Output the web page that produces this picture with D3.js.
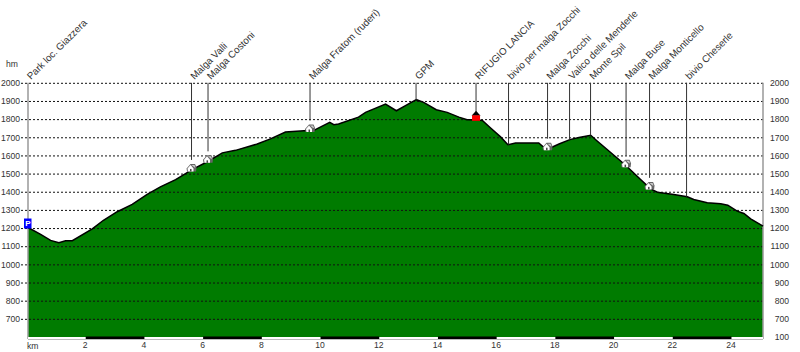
<!DOCTYPE html>
<html>
<head>
<meta charset="utf-8">
<style>
  body { margin: 0; background: #fff; }
  text { font-family: "Liberation Sans", Arial, sans-serif; fill: #333; }
</style>
<script src="https://cdnjs.cloudflare.com/ajax/libs/d3/7.8.5/d3.min.js"></script>
</head>
<body>
<div class="canvas"></div>
<script>
// profile: km, metres
const profileKm = [0, 0.43, 0.77, 1.05, 1.28, 1.51, 2.19, 2.57, 3.04, 3.55, 4.06, 4.51, 5.03, 5.59, 6.14, 6.62, 7.07, 7.81, 8.26, 8.77, 9.40, 9.74, 10.28, 10.42, 10.58, 11.26, 11.50, 12.18, 12.55, 12.86, 13.23, 13.48, 13.91, 14.28, 14.68, 14.96, 15.19, 15.48, 15.76, 16.10, 16.35, 16.61, 17.40, 17.63, 17.74, 18.09, 18.46, 18.77, 19.17, 19.40, 20.36, 20.87, 21.21, 21.44, 22.0, 22.46, 22.68, 23.14, 23.60, 23.84, 24.16, 24.39, 24.62, 25.04];
const profileElev = [1203, 1165, 1132, 1119, 1130, 1130, 1196, 1243, 1290, 1330, 1385, 1427, 1467, 1522, 1568, 1614, 1628, 1663, 1691, 1729, 1736, 1738, 1782, 1769, 1773, 1811, 1837, 1883, 1846, 1874, 1907, 1892, 1852, 1837, 1811, 1797, 1797, 1793, 1751, 1702, 1659, 1669, 1669, 1637, 1637, 1663, 1687, 1699, 1711, 1678, 1546, 1467, 1416, 1397, 1385, 1372, 1357, 1339, 1334, 1326, 1293, 1280, 1251, 1211];

// points along the route
const poiNames = ['Park loc. Giazzera', 'Malga Valli', 'Malga Costoni', 'Malga Fratom (ruderi)', 'GPM', 'RIFUGIO LANCIA', 'bivio per malga Zocchi', 'Malga Zocchi', 'Valico delle Menderle', 'Monte Spil', 'Malga Buse', 'Malga Monticello', 'bivio Cheserle'];
const poiKm = [0, 5.571, 6.133, 9.608, 13.22, 15.264, 16.371, 17.70, 18.45, 19.165, 20.375, 21.175, 22.436];
const poiType = ['park', 'hut', 'hut', 'hut', 'pass', 'refuge', 'pass', 'hut', 'pass', 'pass', 'hut', 'hut', 'pass'];

const elevTicks = [2000, 1900, 1800, 1700, 1600, 1500, 1400, 1300, 1200, 1100, 1000, 900, 800, 700];
const kmTicks = [2, 4, 6, 8, 10, 12, 14, 16, 18, 20, 22, 24];
const scaleBars = [2, 6, 10, 14, 18, 22];   // each one is 2 km long

const labelSize = 8.6;

const svg = d3.select('.canvas')
    .append('svg')
    .attr('width', 800)
    .attr('height', 352)
    .style('display', 'block');

const x = d3.scaleLinear().domain([0, 25.04]).range([28, 763]);
const y = d3.scaleLinear().domain([600, 2000]).range([337, 82.8]);

const profile = profileKm.map((km, i) => ({km, elev: profileElev[i]}));

// elevation of the route at some km, needed to hang the markers on it
const bisect = d3.bisector(d => d.km).left;
const elevAt = km => {
    const i = Math.max(1, bisect(profile, km));
    const a = profile[i - 1], b = profile[i];
    return a.elev + (b.elev - a.elev) * (km - a.km) / (b.km - a.km);
};

// green area
svg.append('path')
    .datum(profile)
    .attr('fill', '#007b00')
    .attr('d', d3.area().x(d => x(d.km)).y0(y(600)).y1(d => y(d.elev)));

// grid and labels, left and right
const leftAxis = svg.append('g')
    .attr('transform', 'translate(28,0)')
    .call(d3.axisLeft(y).tickValues(elevTicks).tickSize(7).tickPadding(1).tickFormat(d => d));
leftAxis.select('.domain').remove();
leftAxis.selectAll('line')
    .attr('x2', 735)
    .attr('x1', -7)
    .attr('stroke', '#111')
    .attr('stroke-dasharray', '2,2');
leftAxis.selectAll('text')
    .attr('font-size', labelSize)
    .attr('x', -8)
    .style('font-family', '"Liberation Sans", Arial, sans-serif');

const rightAxis = svg.append('g')
    .attr('transform', 'translate(789,0)')
    .call(d3.axisLeft(y).tickValues(elevTicks.concat([600])).tickSize(0).tickPadding(0)
        .tickFormat(d => d === 600 ? '100' : d));
rightAxis.select('.domain').remove();
rightAxis.selectAll('text')
    .attr('font-size', labelSize)
    .style('font-family', '"Liberation Sans", Arial, sans-serif');

// frame
svg.append('line').attr('x1', 28).attr('x2', 28).attr('y1', y(2000)).attr('y2', 339)
    .attr('stroke', '#999').attr('stroke-width', 1.5);
svg.append('line').attr('x1', 763).attr('x2', 763).attr('y1', y(2000)).attr('y2', 339)
    .attr('stroke', '#999').attr('stroke-width', 1.5);

// km bar under the profile
svg.append('rect').attr('x', 28).attr('y', 337).attr('width', 735).attr('height', 2)
    .attr('fill', '#fff');
svg.append('line').attr('x1', 28).attr('x2', 763).attr('y1', 339.5).attr('y2', 339.5)
    .attr('stroke', '#bbb');
svg.selectAll('.bar')
    .data(scaleBars)
    .enter()
    .append('rect')
    .attr('class', 'bar')
    .attr('x', d => x(d) - 1)
    .attr('y', 336.5)
    .attr('width', x(2) - x(0))
    .attr('height', 2.5)
    .attr('fill', '#000');

const bottomAxis = svg.append('g')
    .attr('transform', 'translate(-2,339)')
    .call(d3.axisBottom(x).tickValues(kmTicks).tickSize(0).tickPadding(3));
bottomAxis.select('.domain').remove();
bottomAxis.selectAll('text')
    .attr('font-size', labelSize)
    .style('font-family', '"Liberation Sans", Arial, sans-serif');

svg.append('text').text('km').attr('x', 27).attr('y', 349).attr('font-size', labelSize);
svg.append('text').text('hm').attr('x', 6).attr('y', 67).attr('font-size', labelSize);

// profile outline
svg.append('path')
    .datum(profile)
    .attr('fill', 'none')
    .attr('stroke', '#000')
    .attr('stroke-width', 1.5)
    .attr('d', d3.line().x(d => x(d.km)).y(d => y(d.elev)));

const pois = poiNames.map((name, i) => ({name, km: poiKm[i], type: poiType[i]}));

// leader lines stop above the icon
const iconGap = {park: 0, hut: 10, refuge: 8, pass: 0};
svg.selectAll('.leader')
    .data(pois.filter(d => d.type !== 'park'))
    .enter()
    .append('line')
    .attr('class', 'leader')
    .attr('x1', d => x(d.km))
    .attr('x2', d => x(d.km))
    .attr('y1', y(2000))
    .attr('y2', d => y(elevAt(d.km)) - iconGap[d.type])
    .attr('stroke', '#333');

svg.selectAll('.poi-label')
    .data(pois)
    .enter()
    .append('text')
    .attr('class', 'poi-label')
    .attr('font-size', 9.8)
    .attr('transform', d => `translate(${x(d.km) + 3},80) rotate(-45)`)
    .text(d => d.name);

// hut icons
const huts = svg.selectAll('.hut')
    .data(pois.filter(d => d.type === 'hut'))
    .enter()
    .append('g')
    .attr('class', 'hut')
    .attr('transform', d => `translate(${x(d.km)},${y(elevAt(d.km)) - 2})`);
huts.append('path')
    .attr('d', 'M-5,0.5 L-1,-4 L3.5,-4 L5,-0.5 L4.5,3.5 L-4.5,3.5 Z')
    .attr('fill', '#666');
huts.append('path')
    .attr('d', 'M-4,0.5 L-1,-3 L2,0.5 L2,3.5 L-3.5,3.5 Z')
    .attr('fill', '#fff');
huts.append('path')
    .attr('d', 'M0,-3 L3,-3 L4,-0.5 L3,-0.5 Z')
    .attr('fill', '#ccc');
huts.append('rect')
    .attr('x', -1.5).attr('y', 1).attr('width', 1.5).attr('height', 2.5)
    .attr('fill', '#444');

// refuge icon
const refuge = pois.find(d => d.type === 'refuge');
const refugeX = x(refuge.km);
const refugeY = y(elevAt(refuge.km));
svg.append('path')
    .attr('d', `M${refugeX - 4.5},${refugeY - 4} L${refugeX},${refugeY - 9} L${refugeX + 4.5},${refugeY - 4} Z`)
    .attr('fill', '#000');
svg.append('rect')
    .attr('x', refugeX - 4)
    .attr('y', refugeY - 4.5)
    .attr('width', 8)
    .attr('height', 5.5)
    .attr('fill', '#f00');

// parking sign at the start
const park = pois.find(d => d.type === 'park');
const parkY = y(elevAt(park.km));
svg.append('rect')
    .attr('x', x(park.km) - 4)
    .attr('y', parkY - 9)
    .attr('width', 7.5)
    .attr('height', 10)
    .attr('fill', '#00f');
svg.append('text')
    .text('P')
    .attr('x', x(park.km) - 0.2)
    .attr('y', parkY - 1.5)
    .attr('text-anchor', 'middle')
    .attr('font-size', 8)
    .attr('font-weight', 'bold')
    .style('fill', '#fff');
</script>
</body>
</html>
